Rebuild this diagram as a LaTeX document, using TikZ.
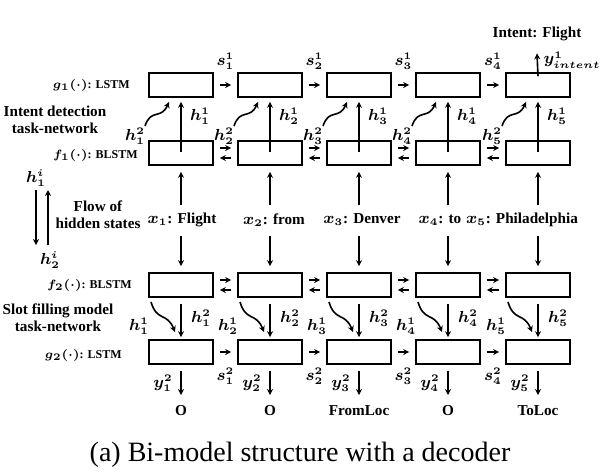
\documentclass[tikz,border=0pt]{standalone}
\usepackage{fontspec}
\setmainfont{Liberation Serif}
\usepackage{amsmath}
\usepackage{bm}
\usetikzlibrary{positioning,arrows.meta}
\begin{document}
\begin{tikzpicture}[x=0.5pt,y=-0.5pt,
  cell/.style={draw, thick, minimum width=32pt, minimum height=12pt, inner sep=0pt},
  lbl/.style={font=\bfseries\fontsize{7.6}{8.6}\selectfont, align=center, inner sep=1pt},
  small lbl/.style={font=\bfseries\fontsize{6}{7}\selectfont, inner sep=1pt},
  flow/.style={thick, -{Stealth[length=3pt,width=3pt]}},
  hop/.style={flow, shorten >=3pt, shorten <=3pt}]%
\path[use as bounding box] (0,0) rectangle (600,472);%
  % boxes of the four layers%
\foreach \i/\cx in {1/181,2/270,3/359,4/448,5/538}{%
  \node[cell] (g1-\i) at (\cx,85) {};%
  \node[cell] (f1-\i) at (\cx,153) {};%
  \node[cell] (f2-\i) at (\cx,285) {};%
  \node[cell] (g2-\i) at (\cx,352) {};%
  \coordinate (xup-\i) at (\cx,205);%
  \coordinate (xdn-\i) at (\cx,236);%
  \coordinate (yout-\i) at (\cx,395);%
  % f1 -> g1%
  \draw[flow] ([yshift=-6pt]f1-\i.north) -- ([yshift=-2pt]g1-\i.south);%
  \node[lbl] at (\cx+19,116) {$\bm{h^1_{\i}}$};%
  \draw[flow] (\cx-36,126) .. controls (\cx-30,108) and (\cx-20,120) .. (\cx-12,102);%
  \node[lbl] at (\cx-46,136) {$\bm{h^2_{\i}}$};%
  % input words%
  \draw[flow] (xup-\i) -- ([yshift=-3pt]f1-\i.south);%
  \draw[flow] (xdn-\i) -- ([yshift=3pt]f2-\i.north);%
  % f2 -> g2%
  \draw[flow] ([yshift=-3pt]f2-\i.south) -- ([yshift=1pt]g2-\i.north);%
  \node[lbl] at (\cx+20,318) {$\bm{h^2_{\i}}$};%
  \draw[flow] (\cx-30,302) .. controls (\cx-24,322) and (\cx-14,312) .. (\cx-6,332);%
  \node[lbl] at (\cx-42,326) {$\bm{h^1_{\i}}$};%
  % g2 -> outputs%
  \draw[flow] ([yshift=-3pt]g2-\i.south) -- (yout-\i);%
  \node[lbl] at (\cx-18,383) {$\bm{y^2_{\i}}$};%
}%
  % recurrent links%
\foreach \i/\j in {1/2,2/3,3/4,4/5}{%
  \draw[hop] (g1-\i) -- (g1-\j);%
  \draw[hop] (g2-\i) -- (g2-\j);%
  \draw[hop] ([yshift=2.5pt]f1-\i.east) -- ([yshift=2.5pt]f1-\j.west);%
  \draw[hop] ([yshift=-2.5pt]f1-\j.west) -- ([yshift=-2.5pt]f1-\i.east);%
  \draw[hop] ([yshift=2.5pt]f2-\i.east) -- ([yshift=2.5pt]f2-\j.west);%
  \draw[hop] ([yshift=-2.5pt]f2-\j.west) -- ([yshift=-2.5pt]f2-\i.east);%
  \path (g1-\i.east) -- (g1-\j.west) node[lbl, midway, yshift=12pt] {$\bm{s^1_{\i}}$};%
  \path (g2-\i.east) -- (g2-\j.west) node[lbl, midway, yshift=-12pt] {$\bm{s^2_{\i}}$};%
}%
  % words%
\node[lbl] (x-1) at (182,220) {$\bm{x_1}$: Flight};%
\node[lbl] (x-2) at (274,220) {$\bm{x_2}$: from};%
\node[lbl] (x-3) at (362,220) {$\bm{x_3}$: Denver};%
\node[lbl] (x-4) at (440,220) {$\bm{x_4}$: to};%
\node[lbl] (x-5) at (522,220) {$\bm{x_5}$: Philadelphia};%
\node[lbl] (o-1) at (181,411) {O};%
\node[lbl] (o-2) at (270,411) {O};%
\node[lbl] (o-3) at (359,411) {FromLoc};%
\node[lbl] (o-4) at (448,411) {O};%
\node[lbl] (o-5) at (538,411) {ToLoc};%
  % intent output%
\node[lbl] (intent) at (537,34) {Intent: Flight};%
\draw[flow] ([yshift=-2pt]g1-5.north) -- ([yshift=-5pt]intent.south);%
\node[lbl] at (572,60) {$\bm{y^1_{intent}}$};%
  % left side labels%
\node[small lbl, anchor=east] at (132,85) {$\bm{g_1(\cdot)}$: LSTM};%
\node[lbl] at (55,120) {Intent detection\\task-network};%
\node[small lbl, anchor=east] at (140,155) {$\bm{f_1(\cdot)}$: BLSTM};%
\node[lbl] (hi-1) at (36,178) {$\bm{h^i_1}$};%
\node[lbl] (hi-2) at (50,260) {$\bm{h^i_2}$};%
\draw[flow] (36,190) -- (36,245);%
\draw[flow] (48,245) -- (48,190);%
\node[lbl] at (98,215) {Flow of\\hidden states};%
\node[small lbl, anchor=east] at (134,285) {$\bm{f_2(\cdot)}$: BLSTM};%
\node[lbl] at (58,318) {Slot filling model\\task-network};%
\node[small lbl, anchor=east] at (124,355) {$\bm{g_2(\cdot)}$: LSTM};%
\node[font=\fontsize{14}{16}\selectfont] at (300,455) {(a) Bi-model structure with a decoder};%
\end{tikzpicture}
\end{document}
